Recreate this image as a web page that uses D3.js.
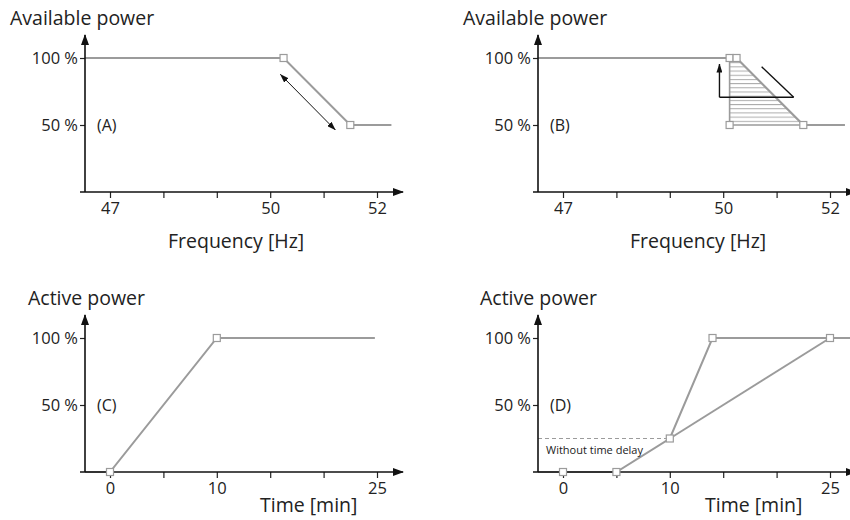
<!DOCTYPE html>
<html>
<head>
<meta charset="utf-8">
<script src="https://cdn.jsdelivr.net/npm/d3@7"></script>
<style>
  body { margin: 0; background: #fff; }
  text { font-family: "Open Sans", sans-serif; fill: #222; }
</style>
</head>
<body>
<svg id="chart" width="850" height="520"></svg>
<script>
// Axis ticks and labels
const freqTicks = [47, 48, 49, 50, 51, 52];
const freqLabels = ["47", "", "", "50", "", "52"];
const timeTicks = [0, 5, 10, 15, 20, 25];
const timeLabels = ["0", "", "10", "", "", "25"];
const powerTicks = [50, 100];
const powerLabels = ["50 %", "100 %"];

// (A) power reduction vs frequency
const curveA = [[46.53, 100], [50.25, 100], [51.5, 50], [52.27, 50]];
const markersA = [[50.25, 100], [51.5, 50]];
const rangeArrowA = [[50.19, 87.8], [51.22, 46.3]];

// (B) adjustable start point, hatched area
const curveB = [[46.53, 100], [50.12, 100], [50.25, 100], [51.5, 50], [52.28, 50]];
const bandB = [[50.12, 100], [50.25, 100], [51.5, 50], [50.12, 50]];
const markersB = [[50.12, 100], [50.25, 100], [50.12, 50], [51.5, 50]];
const riseArrowB = [[49.93, 70.7], [49.93, 95.5]];
const baseLineB = [[49.93, 70.7], [51.32, 70.7]];
const slopeLineB = [[50.72, 93.5], [51.32, 70.7]];

// (C) ramp-up over time
const curveC = [[-2.34, 0], [0, 0], [10, 100], [24.8, 100]];
const markersC = [[0, 0], [10, 100]];

// (D) ramp-up with time delay
const curveD = [[-2.34, 0], [0, 0], [5, 0], [10, 25], [14, 100], [27, 100]];
const slowD = [[10, 25], [25, 100]];
const markersD = [[0, 0], [5, 0], [10, 25], [14, 100], [25, 100]];
const delayLevelD = 25;

const grey = "#9b9b9b";
const svg = d3.select("#chart");

// Arrow heads
const defs = svg.append("defs");
defs.append("marker")
    .attr("id", "axisHead")
    .attr("markerUnits", "userSpaceOnUse")
    .attr("viewBox", "0 0 11 8")
    .attr("markerWidth", 11).attr("markerHeight", 8)
    .attr("refX", 10).attr("refY", 4)
    .attr("orient", "auto")
    .append("path").attr("d", "M0,0L11,4L0,8Z").attr("fill", "#111");
defs.append("marker")
    .attr("id", "smallHead")
    .attr("markerUnits", "userSpaceOnUse")
    .attr("viewBox", "0 0 9 6")
    .attr("markerWidth", 9).attr("markerHeight", 6)
    .attr("refX", 8.5).attr("refY", 3)
    .attr("orient", "auto-start-reverse")
    .append("path").attr("d", "M0,0L9,3L0,6Z").attr("fill", "#111");

function drawPanel(cfg) {
    const x = d3.scaleLinear().domain(cfg.xDomain).range(cfg.xRange);
    const y = d3.scaleLinear().domain([0, 100]).range(cfg.yRange);
    const line = d3.line().x(d => x(d[0])).y(d => y(d[1]));
    const g = svg.append("g");

    const axisX = cfg.xRange[0] - 25;   // vertical axis position
    const axisY = y(0);

    if (cfg.band) {
        // horizontal hatching inside the band
        const pid = "hatch" + cfg.name;
        const step = (y(50) - y(100)) / 16;
        const pat = defs.append("pattern")
            .attr("id", pid)
            .attr("patternUnits", "userSpaceOnUse")
            .attr("x", 0).attr("y", y(100))
            .attr("width", 10).attr("height", step);
        pat.append("line")
            .attr("x1", 0).attr("x2", 10).attr("y1", 0.5).attr("y2", 0.5)
            .attr("stroke", "#aaa").attr("stroke-width", 1);
        g.append("path")
            .attr("d", line(cfg.band) + "Z")
            .attr("fill", `url(#${pid})`)
            .attr("stroke", grey)
            .attr("stroke-width", 1.6);
    }

    cfg.curves.forEach(c => {
        g.append("path")
            .attr("d", line(c))
            .attr("fill", "none")
            .attr("stroke", grey)
            .attr("stroke-width", 2);
    });

    if (cfg.dashLevel !== undefined) {
        g.append("line")
            .attr("x1", axisX).attr("x2", x(10))
            .attr("y1", y(cfg.dashLevel)).attr("y2", y(cfg.dashLevel))
            .attr("stroke", grey).attr("stroke-width", 1)
            .attr("stroke-dasharray", "4,3");
        g.append("text")
            .attr("x", axisX + 8).attr("y", y(cfg.dashLevel) + 15)
            .attr("font-size", 11)
            .text("Without time delay");
    }

    // ticks
    const xAxis = d3.axisBottom(x)
        .tickValues(cfg.ticks)
        .tickFormat((d, i) => cfg.tickLabels[i])
        .tickSize(6).tickPadding(4);
    const gx = g.append("g").attr("transform", `translate(0,${axisY})`).call(xAxis);
    gx.select(".domain").remove();
    gx.selectAll("line").attr("stroke", "#222").attr("stroke-width", 1.2);
    gx.selectAll("text").attr("font-size", 16.5).attr("font-family", null).attr("fill", "#222");

    const yAxis = d3.axisLeft(y)
        .tickValues(powerTicks)
        .tickFormat((d, i) => powerLabels[i])
        .tickSize(5).tickPadding(2);
    const gy = g.append("g").attr("transform", `translate(${axisX},0)`).call(yAxis);
    gy.select(".domain").remove();
    gy.selectAll("line").attr("stroke", "#222").attr("stroke-width", 1.2);
    gy.selectAll("text").attr("font-size", 16.5).attr("font-family", null).attr("fill", "#222");

    // axis lines with arrow heads
    g.append("line")
        .attr("x1", axisX - 5).attr("x2", cfg.xRange[0] + 293)
        .attr("y1", axisY).attr("y2", axisY)
        .attr("stroke", "#111").attr("stroke-width", 1.6)
        .attr("marker-end", "url(#axisHead)");
    g.append("line")
        .attr("x1", axisX).attr("x2", axisX)
        .attr("y1", axisY).attr("y2", axisY - 157)
        .attr("stroke", "#111").attr("stroke-width", 1.6)
        .attr("marker-end", "url(#axisHead)");

    // black annotation lines
    (cfg.notes || []).forEach(n => {
        const p = g.append("path")
            .attr("d", line(n.pts))
            .attr("fill", "none")
            .attr("stroke", "#111")
            .attr("stroke-width", n.width || 1.4);
        if (n.end) p.attr("marker-end", "url(#smallHead)");
        if (n.start) p.attr("marker-start", "url(#smallHead)");
    });

    // square markers
    g.selectAll("rect.pt")
        .data(cfg.markers)
        .join("rect")
        .attr("class", "pt")
        .attr("x", d => x(d[0]) - 3.5)
        .attr("y", d => y(d[1]) - 3.5)
        .attr("width", 7).attr("height", 7)
        .attr("fill", "#fff")
        .attr("stroke", grey)
        .attr("stroke-width", 1.2);

    // texts
    g.append("text")
        .attr("x", cfg.titleX).attr("y", y(100) - 33)
        .attr("font-size", 19.5)
        .text(cfg.title);
    g.append("text")
        .attr("x", axisX + 12).attr("y", y(50)).attr("dy", "0.35em")
        .attr("font-size", 16)
        .text(cfg.label);
    g.append("text")
        .attr("x", cfg.xTitleX).attr("y", cfg.xTitleY)
        .attr("font-size", 19.5)
        .text(cfg.xTitle);
}

drawPanel({
    name: "A", xDomain: [47, 52], xRange: [110, 377], yRange: [192, 58],
    ticks: freqTicks, tickLabels: freqLabels,
    curves: [curveA], markers: markersA,
    notes: [{ pts: rangeArrowA, start: true, end: true, width: 1 }],
    title: "Available power", titleX: 10, label: "(A)",
    xTitle: "Frequency [Hz]", xTitleX: 168, xTitleY: 248
});
drawPanel({
    name: "B", xDomain: [47, 52], xRange: [563, 830], yRange: [192, 58],
    ticks: freqTicks, tickLabels: freqLabels,
    curves: [curveB], band: bandB, markers: markersB,
    notes: [
        { pts: riseArrowB, end: true },
        { pts: baseLineB },
        { pts: slopeLineB }
    ],
    title: "Available power", titleX: 463, label: "(B)",
    xTitle: "Frequency [Hz]", xTitleX: 630, xTitleY: 248
});
drawPanel({
    name: "C", xDomain: [0, 25], xRange: [110, 377], yRange: [472, 338],
    ticks: timeTicks, tickLabels: timeLabels,
    curves: [curveC], markers: markersC,
    title: "Active power", titleX: 28, label: "(C)",
    xTitle: "Time [min]", xTitleX: 260, xTitleY: 512
});
drawPanel({
    name: "D", xDomain: [0, 25], xRange: [563, 830], yRange: [472, 338],
    ticks: timeTicks, tickLabels: timeLabels,
    curves: [curveD, slowD], markers: markersD, dashLevel: delayLevelD,
    title: "Active power", titleX: 480, label: "(D)",
    xTitle: "Time [min]", xTitleX: 705, xTitleY: 512
});
</script>
</body>
</html>
